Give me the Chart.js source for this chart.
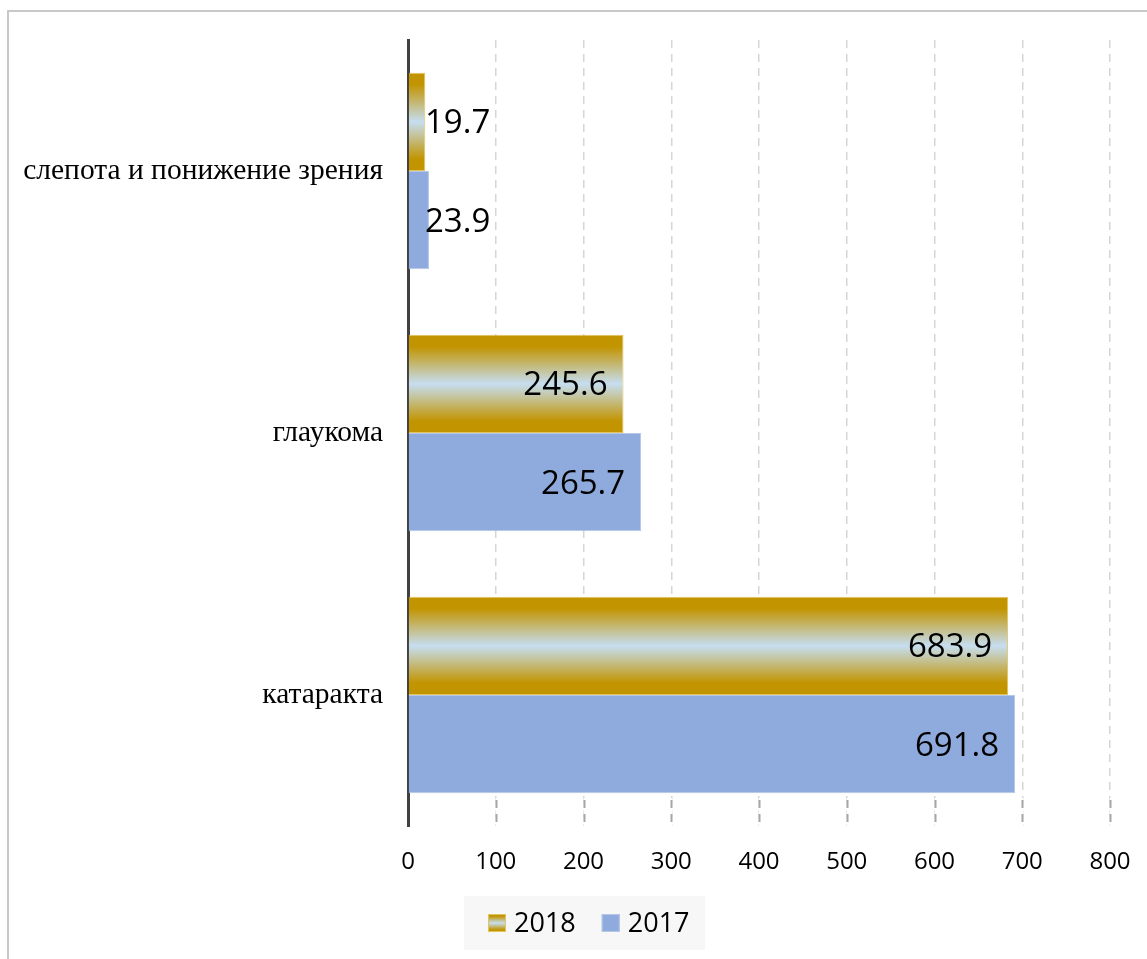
<!DOCTYPE html>
<html>
<head>
<meta charset="utf-8">
<script src="https://cdn.jsdelivr.net/npm/chart.js@4.4.0/dist/chart.umd.min.js"></script>
<style>
  html, body { margin: 0; padding: 0; background: #fff; }
  #wrap { width: 1147px; height: 959px; position: relative; }
</style>
</head>
<body>
<div id="wrap"><canvas id="c" width="1147" height="959"></canvas></div>
<script>
const categories = ['слепота и понижение зрения', 'глаукома', 'катаракта'];
const series2018 = [19.7, 245.6, 683.9];
const series2017 = [23.9, 265.7, 691.8];
const seriesNames = ['2018', '2017'];
const xTicksMax = 800;
const xTickStep = 100;

const GOLD = '#C29400';
const LIGHTBLUE = '#C6DEF1';
const BLUE = '#8FAADC';
const CAT_PCT = 0.75;

function goldGradient(ctx2d, top, bottom) {
  const g = ctx2d.createLinearGradient(0, top, 0, bottom);
  g.addColorStop(0, GOLD);
  g.addColorStop(0.12, GOLD);
  g.addColorStop(0.5, LIGHTBLUE);
  g.addColorStop(0.88, GOLD);
  g.addColorStop(1, GOLD);
  return g;
}

function barGradient(ctx) {
  const chart = ctx.chart;
  const area = chart.chartArea;
  if (!area || ctx.dataIndex === undefined || !chart.scales.y) return GOLD;
  const yScale = chart.scales.y;
  const c = yScale.getPixelForValue(ctx.dataIndex);
  const cat = (area.bottom - area.top) / categories.length;
  const th = cat * CAT_PCT / 2;
  return goldGradient(chart.ctx, c - th, c);
}

const framePlugin = {
  id: 'frame',
  beforeDraw(chart) {
    const ctx = chart.ctx;
    ctx.save();
    ctx.fillStyle = '#ffffff';
    ctx.fillRect(0, 0, chart.width, chart.height);
    ctx.strokeStyle = '#C8C8C8';
    ctx.lineWidth = 2;
    ctx.strokeRect(8, 11, chart.width + 20, chart.height + 20);
    ctx.restore();
  }
};

const bottomTicksPlugin = {
  id: 'bottomTicks',
  afterDatasetsDraw(chart) {
    const ctx = chart.ctx;
    const area = chart.chartArea;
    const xs = chart.scales.x;
    ctx.save();
    ctx.lineWidth = 2;
    xs.ticks.forEach(t => {
      if (t.value === 0) return;
      const x = Math.round(xs.getPixelForValue(t.value)) + 0.5;
      ctx.strokeStyle = '#ffffff';
      ctx.setLineDash([]);
      ctx.beginPath();
      ctx.moveTo(x, area.bottom - 28);
      ctx.lineTo(x, area.bottom);
      ctx.stroke();
      ctx.strokeStyle = '#A6A6A6';
      ctx.setLineDash([8, 6]);
      ctx.beginPath();
      ctx.moveTo(x, area.bottom - 26);
      ctx.lineTo(x, area.bottom);
      ctx.stroke();
    });
    ctx.restore();
  }
};

const labelPlugin = {
  id: 'valueLabels',
  afterDatasetsDraw(chart) {
    const ctx = chart.ctx;
    const area = chart.chartArea;
    ctx.save();
    ctx.font = '33px "Open Sans"';
    ctx.fillStyle = '#000000';
    ctx.textAlign = 'left';
    ctx.textBaseline = 'middle';
    chart.data.datasets.forEach((ds, di) => {
      const meta = chart.getDatasetMeta(di);
      meta.data.forEach((bar, i) => {
        const txt = ds.data[i].toFixed(1);
        const w = ctx.measureText(txt).width;
        let left = bar.x - 16 - w;
        if (left < area.left + 17) left = area.left + 17;
        ctx.fillText(txt, left, bar.y + 2);
      });
    });
    ctx.restore();
  }
};

const legendPlugin = {
  id: 'customLegend',
  afterDraw(chart) {
    const ctx = chart.ctx;
    ctx.save();
    ctx.fillStyle = '#F7F7F7';
    ctx.fillRect(464, 896, 241, 54);
    ctx.font = '27px "Open Sans"';
    ctx.textBaseline = 'middle';
    ctx.textAlign = 'left';
    let x = 488;
    const sy = 914, sh = 18, sw = 18, cy = 924;
    seriesNames.forEach((name, i) => {
      if (i === 0) {
        ctx.fillStyle = goldGradient(ctx, sy, sy + sh);
        ctx.strokeStyle = '#E3C35C';
      } else {
        ctx.fillStyle = BLUE;
        ctx.strokeStyle = '#B4C7E7';
      }
      ctx.fillRect(x, sy, sw, sh);
      ctx.lineWidth = 1;
      ctx.strokeRect(x + 0.5, sy + 0.5, sw - 1, sh - 1);
      x += sw + 8;
      ctx.fillStyle = '#000000';
      ctx.fillText(name, x, cy);
      x += ctx.measureText(name).width + 26;
    });
    ctx.restore();
  }
};

new Chart(document.getElementById('c'), {
  type: 'bar',
  data: {
    labels: categories,
    datasets: [
      {
        label: seriesNames[0],
        data: series2018,
        backgroundColor: barGradient,
        borderColor: '#E3C35C',
        borderWidth: 1,
        categoryPercentage: CAT_PCT,
        barPercentage: 1.0
      },
      {
        label: seriesNames[1],
        data: series2017,
        backgroundColor: BLUE,
        borderColor: '#B4C7E7',
        borderWidth: 1,
        categoryPercentage: CAT_PCT,
        barPercentage: 1.0
      }
    ]
  },
  options: {
    indexAxis: 'y',
    responsive: false,
    animation: false,
    layout: { padding: { top: 40, right: 37, left: 0, bottom: 0 } },
    plugins: {
      legend: { display: false },
      tooltip: { enabled: false }
    },
    scales: {
      x: {
        min: 0,
        max: xTicksMax,
        ticks: {
          stepSize: xTickStep,
          color: '#000000',
          font: { family: '"Open Sans"', size: 24 },
          padding: 22
        },
        grid: {
          color: '#D6D6D6',
          lineWidth: 1.5,
          drawTicks: false
        },
        border: { display: false, dash: [8, 6] },
        afterFit(scale) {
          scale.height = 959 - 826;
          scale.paddingLeft = 0;
          scale.paddingRight = 0;
        }
      },
      y: {
        ticks: {
          color: '#000000',
          font: { family: '"Liberation Serif"', size: 29.5 },
          padding: 17
        },
        grid: { display: false },
        border: { display: true, color: '#404040', width: 3 },
        afterFit(scale) { scale.width = 408; }
      }
    }
  },
  plugins: [framePlugin, bottomTicksPlugin, labelPlugin, legendPlugin]
});
</script>
</body>
</html>
